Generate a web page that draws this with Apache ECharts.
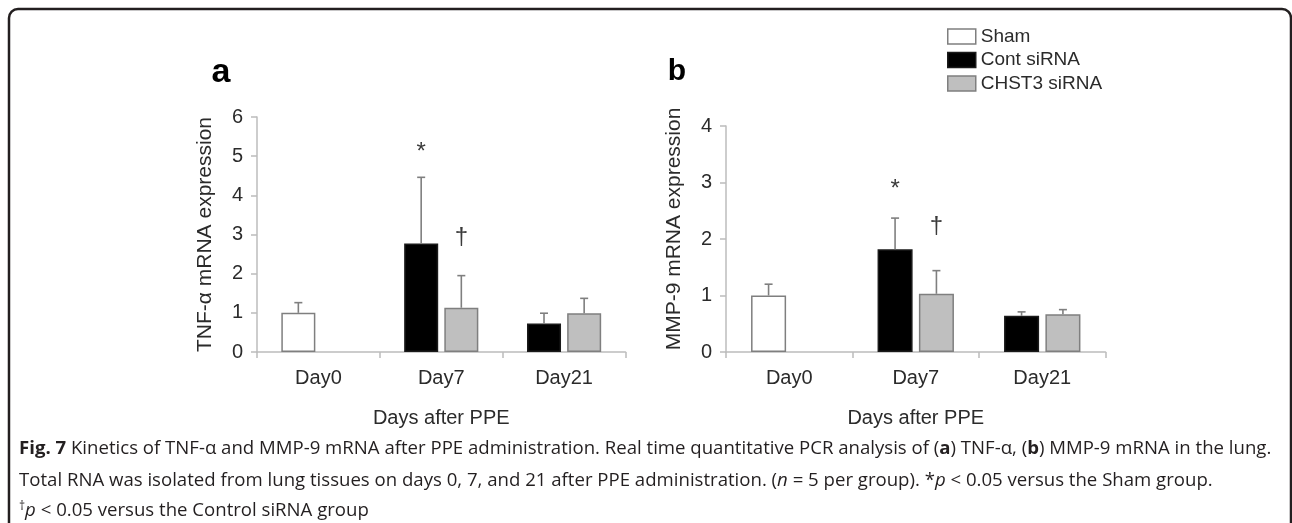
<!DOCTYPE html>
<html><head><meta charset="utf-8">
<script src="https://cdn.jsdelivr.net/npm/echarts@6/dist/echarts.min.js"></script>
<style>html,body{margin:0;padding:0;background:#fff}#c{width:1292px;height:523px}</style>
</head><body><div id="c"></div>
<script>
// ---------- data ----------
const categories = ['Day0', 'Day7', 'Day21'];
const seriesNames = ['Sham', 'Cont siRNA', 'CHST3 siRNA'];

// panel a: TNF-α mRNA expression (mean, mean+SD)
const tnfSham     = [1.00, null, null];
const tnfShamErr  = [1.26, null, null];
const tnfCont     = [null, 2.77, 0.73];
const tnfContErr  = [null, 4.46, 0.99];
const tnfChst     = [null, 1.13, 0.99];
const tnfChstErr  = [null, 1.95, 1.37];
const tnfContSig  = [null, '*', null];
const tnfContSigY = [null, 5.10, null];
const tnfChstSig  = [null, '†', null];
const tnfChstSigY = [null, 2.93, null];
const tnfAxis = { min: 0, max: 6, interval: 1 };

// panel b: MMP-9 mRNA expression
const mmpSham     = [1.00, null, null];
const mmpShamErr  = [1.20, null, null];
const mmpCont     = [null, 1.82, 0.64];
const mmpContErr  = [null, 2.37, 0.71];
const mmpChst     = [null, 1.03, 0.67];
const mmpChstErr  = [null, 1.44, 0.75];
const mmpContSig  = [null, '*', null];
const mmpContSigY = [null, 2.88, null];
const mmpChstSig  = [null, '†', null];
const mmpChstSigY = [null, 2.23, null];
const mmpAxis = { min: 0, max: 4, interval: 1 };

const yTitles = ['TNF-α mRNA expression', 'MMP-9 mRNA expression'];
const xTitle = 'Days after PPE';
const panelLabels = ['a', 'b'];

// ---------- styles ----------
const FONT = 'Liberation Sans';
const CAP_FONT = 'Open Sans';
const AXIS_COLOR = '#bcbcbc';
const TEXT_COLOR = '#2b2b2b';
const ERR_COLOR = '#7f7f7f';
const BAR_W = 0.277, BAR_GAP = 0.18;
const styles = {
  'Sham':        { color: '#ffffff', borderColor: '#7f7f7f', borderWidth: 1.5 },
  'Cont siRNA':  { color: '#000000', borderColor: '#1a1a1a', borderWidth: 1.5 },
  'CHST3 siRNA': { color: '#bfbfbf', borderColor: '#7f7f7f', borderWidth: 1.5 }
};

const toBar = arr => arr.map(v => v == null ? '-' : v);

function errData(vals, tops, slot) {
  const out = [];
  vals.forEach((v, i) => { if (v != null) out.push([i, v, tops[i], slot]); });
  return out;
}
function sigData(texts, ys, slot) {
  const out = [];
  texts.forEach((t, i) => { if (t != null) out.push({ value: [i, ys[i], slot], sym: t }); });
  return out;
}
function slotX(api, cat, slot) {
  const c = api.coord([cat, 0])[0];
  const band = api.size([1, 0])[0];
  const bw = band * BAR_W, gap = bw * BAR_GAP;
  return c + (slot === 0 ? -1 : 1) * (bw + gap) / 2;
}

function panelSeries(idx, sham, shamErr, cont, contErr, chst, chstErr, cSig, cSigY, gSig, gSigY) {
  const common = { type: 'bar', xAxisIndex: idx, yAxisIndex: idx, barWidth: (BAR_W * 100) + '%', barGap: (BAR_GAP * 100) + '%', animation: false };
  const errs = [].concat(errData(sham, shamErr, 0), errData(cont, contErr, 0), errData(chst, chstErr, 1));
  const sigs = [].concat(sigData(cSig, cSigY, 0), sigData(gSig, gSigY, 1));
  return [
    Object.assign({ name: 'Sham', stack: 'left' + idx, data: toBar(sham), itemStyle: styles['Sham'] }, common),
    Object.assign({ name: 'Cont siRNA', stack: 'left' + idx, data: toBar(cont), itemStyle: styles['Cont siRNA'] }, common),
    Object.assign({ name: 'CHST3 siRNA', stack: 'right' + idx, data: toBar(chst), itemStyle: styles['CHST3 siRNA'] }, common),
    {
      type: 'custom', xAxisIndex: idx, yAxisIndex: idx, z: 5, animation: false,
      data: errs, encode: { x: 0, y: [1, 2] },
      renderItem(params, api) {
        const cat = api.value(0), slot = api.value(3);
        const x = slotX(api, cat, slot);
        const y0 = api.coord([cat, api.value(1)])[1];
        const y1 = api.coord([cat, api.value(2)])[1];
        const st = { stroke: ERR_COLOR, lineWidth: 1.6 };
        return { type: 'group', children: [
          { type: 'line', shape: { x1: x, y1: y0, x2: x, y2: y1 }, style: st },
          { type: 'line', shape: { x1: x - 4, y1: y1, x2: x + 4, y2: y1 }, style: st }
        ]};
      }
    },
    {
      type: 'custom', xAxisIndex: idx, yAxisIndex: idx, z: 5, animation: false,
      data: sigs, encode: { x: 0, y: 1 },
      renderItem(params, api) {
        const cat = api.value(0), slot = api.value(2);
        const x = slotX(api, cat, slot);
        const y = api.coord([cat, api.value(1)])[1];
        return { type: 'text', x: x, y: y, style: {
          text: sigs[params.dataIndex].sym, fill: '#3a3a3a', font: '24px "' + FONT + '"',
          align: 'center', verticalAlign: 'middle' } };
      }
    }
  ];
}

function xAxis(idx) {
  return {
    type: 'category', gridIndex: idx, data: categories,
    axisLine: { lineStyle: { color: AXIS_COLOR, width: 1.5 } },
    axisTick: { show: true, length: 6, lineStyle: { color: AXIS_COLOR, width: 1.5 } },
    axisLabel: { fontFamily: FONT, fontSize: 20, color: TEXT_COLOR, margin: 16 },
    name: xTitle, nameLocation: 'middle', nameGap: 56,
    nameTextStyle: { fontFamily: FONT, fontSize: 20, color: TEXT_COLOR }
  };
}
function yAxis(idx, ax, title, pad) {
  return {
    type: 'value', gridIndex: idx, min: ax.min, max: ax.max, interval: ax.interval,
    splitLine: { show: false },
    axisLine: { show: true, lineStyle: { color: AXIS_COLOR, width: 1.5 } },
    axisTick: { show: true, length: 6, lineStyle: { color: AXIS_COLOR, width: 1.5 } },
    axisLabel: { fontFamily: FONT, fontSize: 20, color: TEXT_COLOR, margin: 14 },
    name: title, nameLocation: 'middle', nameGap: 41,
    nameTextStyle: { fontFamily: FONT, fontSize: 21, color: TEXT_COLOR, padding: pad }
  };
}

const CAP_SIZE = 18.6;
const rich = {
  b: { fontFamily: CAP_FONT, fontSize: CAP_SIZE, fontWeight: 'bold', fill: '#231f20' },
  i: { fontFamily: CAP_FONT, fontSize: CAP_SIZE, fontStyle: 'italic', fill: '#231f20' },
  sup: { fontFamily: CAP_FONT, fontSize: 12, fill: '#231f20', verticalAlign: 'top', padding: [0, 0, 8, 0] }
};
function capText(text, y) {
  return { type: 'text', left: 19, top: y, style: {
    text: text, rich: rich, font: CAP_SIZE + 'px "' + CAP_FONT + '"', fill: '#231f20' } };
}

const chart = echarts.init(document.getElementById('c'), null, { renderer: 'canvas' });
chart.setOption({
  animation: false,
  backgroundColor: '#fff',
  grid: [
    { left: 257, top: 117, width: 368.5, height: 235 },
    { left: 726, top: 126, width: 379.5, height: 226 }
  ],
  xAxis: [xAxis(0), xAxis(1)],
  yAxis: [yAxis(0, tnfAxis, yTitles[0], [0, 0, 0, 0]), yAxis(1, mmpAxis, yTitles[1], [0, 0, 0, 20])],
  legend: {
    orient: 'vertical', left: 942, top: 22, itemWidth: 28, itemHeight: 15, itemGap: 4.5,
    icon: 'rect',
    textStyle: { fontFamily: FONT, fontSize: 19, color: TEXT_COLOR, lineHeight: 19 },
    data: seriesNames.map(n => ({ name: n, itemStyle: styles[n] }))
  },
  series: [].concat(
    panelSeries(0, tnfSham, tnfShamErr, tnfCont, tnfContErr, tnfChst, tnfChstErr, tnfContSig, tnfContSigY, tnfChstSig, tnfChstSigY),
    panelSeries(1, mmpSham, mmpShamErr, mmpCont, mmpContErr, mmpChst, mmpChstErr, mmpContSig, mmpContSigY, mmpChstSig, mmpChstSigY)
  ),
  graphic: [
    { type: 'rect', shape: { x: 9, y: 9, width: 1282, height: 600, r: 9 }, style: { fill: 'none', stroke: '#231f20', lineWidth: 2.5 }, silent: true },
    { type: 'text', x: 221, y: 73, style: { text: panelLabels[0], font: 'bold 34px "' + FONT + '"', fill: '#000', align: 'center', verticalAlign: 'middle' } },
    { type: 'text', x: 677, y: 72, style: { text: panelLabels[1], font: 'bold 30px "' + FONT + '"', fill: '#000', align: 'center', verticalAlign: 'middle' } },
    capText('{b|Fig. 7} Kinetics of TNF-α and MMP-9 mRNA after PPE administration. Real time quantitative PCR analysis of ({b|a}) TNF-α, ({b|b}) MMP-9 mRNA in the lung.', 439),
    capText('Total RNA was isolated from lung tissues on days 0, 7, and 21 after PPE administration. ({i|n} = 5 per group). *{i|p} < 0.05 versus the Sham group.', 471),
    capText('{sup|†}{i|p} < 0.05 versus the Control siRNA group', 501)
  ]
});
</script>
</body></html>
